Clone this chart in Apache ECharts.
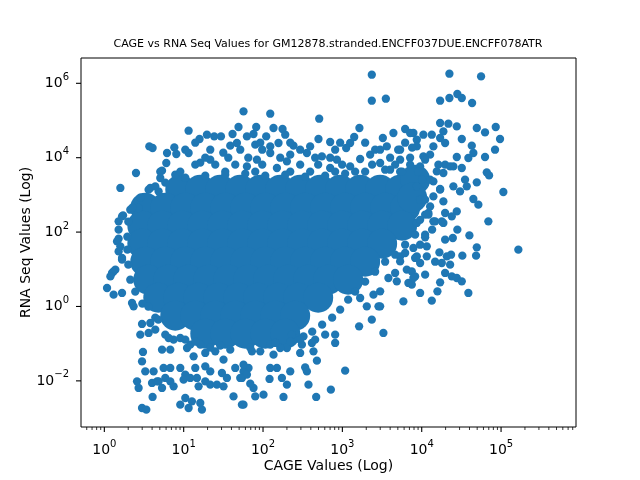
<!DOCTYPE html>
<html>
<head>
<meta charset="utf-8">
<script src="https://cdn.jsdelivr.net/npm/echarts@6/dist/echarts.min.js"></script>
<style>
  html, body { margin: 0; padding: 0; background: #fff; }
  #chart { width: 640px; height: 480px; }
</style>
</head>
<body>
<div id="chart"></div>
<script>
// values as log10 (CAGE, RNA Seq)
const titleText = 'CAGE vs RNA Seq Values for GM12878.stranded.ENCFF037DUE.ENCFF078ATR';
const xName = 'CAGE Values (Log)';
const yName = 'RNA Seq Values (Log)';

// axis range and ticks
const xRange = [0.508, 8.8e5];
const yRange = [5.75e-4, 4.79e6];
const xMajorTicks = [1, 10, 100, 1e3, 1e4, 1e5];
const yMajorTicks = [1e-2, 1, 1e2, 1e4, 1e6];
const minorSteps = [2, 3, 4, 5, 6, 7, 8, 9];
const minorDecades = [0.1, 1, 10, 100, 1e3, 1e4, 1e5];

// scattered points around the dense cloud, [log10 CAGE, log10 RNA]
const edgePoints = [
  [3.371,6.231],[4.349,6.258],[4.748,6.186],[3.371,5.532],[3.548,5.586],[4.232,5.532],[4.349,5.605],[4.449,5.712],[4.505,5.605],[4.635,5.471],
  [1.754,5.245],[2.091,5.183],[2.708,5.048],[3.215,4.798],[1.691,4.825],[1.062,4.726],[1.200,4.503],[1.293,4.618],[1.385,4.573],[1.470,4.573],
  [1.616,4.637],[1.797,4.573],[0.567,4.304],[0.608,4.261],[0.790,4.126],[0.882,4.277],[0.907,4.100],[1.062,4.126],[0.781,3.858],[0.727,3.651],
  [0.894,3.543],[0.705,3.454],[0.399,3.589],[0.202,3.186],[0.579,3.186],[0.684,3.094],[0.432,2.648],[0.327,2.602],[0.236,2.449],[0.180,2.288],
  [0.180,2.065],[0.180,1.823],[1.587,4.323],[1.499,4.134],[1.671,4.395],[1.335,3.946],[1.209,3.866],[1.914,4.825],[1.880,4.637],[2.040,4.573],
  [2.132,4.798],[2.246,4.772],[2.280,4.618],[1.902,4.350],[2.091,4.304],[2.195,4.395],[2.384,4.323],[2.699,4.503],[2.846,4.422],[2.594,4.304],
  [3.149,4.557],[3.098,4.395],[3.048,4.261],[3.510,4.530],[3.643,4.664],[3.791,4.772],[3.895,4.664],[3.560,4.304],[2.091,4.126],[2.343,4.081],
  [2.553,4.126],[2.742,4.035],[2.931,3.946],[3.224,3.965],[3.350,4.081],[1.923,3.946],[1.797,3.766],[2.175,3.723],[2.301,3.901],[2.846,3.723],
  [3.098,3.766],[3.476,3.858],[3.728,3.946],[3.938,4.484],[4.232,4.933],[4.336,4.914],[4.442,4.841],[4.273,4.707],[4.694,4.798],[4.798,4.680],
  [4.933,4.825],[4.987,4.503],[4.505,4.503],[4.631,4.323],[4.924,4.215],[4.798,4.019],[4.442,4.019],[4.588,3.992],[4.651,4.126],[4.295,3.812],
  [4.399,3.766],[4.505,3.723],[4.820,3.605],[4.849,3.524],[4.694,3.336],[4.546,3.409],[4.399,3.229],[4.483,3.094],[4.568,3.229],[5.029,3.078],
  [4.651,2.890],[4.714,2.737],[4.273,2.825],[4.232,3.140],[4.442,2.556],[4.295,2.513],[4.379,2.422],[4.106,2.691],[4.084,2.513],[4.169,2.288],
  [4.273,2.245],[4.840,2.288],[4.449,2.065],[4.601,1.911],[4.392,1.841],[4.043,1.930],[3.854,4.664],[4.021,4.618],[4.127,4.618],[3.938,4.304],
  [4.147,4.304],[4.021,4.035],[4.190,3.632],[3.980,3.766],[4.106,3.409],[3.938,3.229],[4.147,2.960],[3.980,2.871],[3.938,2.245],[4.232,4.530],
  [4.295,4.395],[4.106,4.081],[4.210,3.812],[4.358,3.766],[4.273,3.589],[4.147,3.363],[4.232,3.159],[4.084,2.468],[4.147,2.288],[4.253,2.288],
  [4.064,1.616],[3.895,1.573],[3.938,1.347],[3.980,1.169],[3.917,0.809],[3.728,1.347],[3.791,1.438],[3.665,0.901],[3.812,0.989],[5.218,1.527],
  [4.694,1.589],[4.685,1.366],[4.512,1.366],[4.370,1.392],[4.316,1.347],[4.223,1.454],[4.253,1.169],[4.358,1.124],[4.064,1.347],[4.295,0.901],
  [4.379,0.809],[4.442,0.766],[4.505,0.675],[4.232,0.648],[4.198,0.406],[3.980,0.363],[4.127,0.156],[4.588,0.363],[3.769,0.137],[3.832,0.632],
  [3.686,0.675],[3.517,-0.712],[3.476,0.003],[4.043,1.858],[3.917,1.304],[3.875,0.944],[3.875,0.586],[3.665,1.392],[3.728,1.212],[3.895,0.766],
  [3.580,0.766],[3.476,0.406],[3.392,0.317],[3.455,0.003],[3.308,0.003],[3.224,0.228],[3.211,-0.535],[3.371,-0.355],[2.909,-0.758],[2.909,-0.981],
  [2.783,-0.758],[2.657,-0.892],[3.035,-1.726],[2.855,-2.237],[2.670,-2.433],[2.573,-2.102],[2.679,-1.457],[2.636,-1.207],[2.531,-1.637],[2.553,-1.745],
  [2.468,-1.250],[2.490,-1.027],[2.616,-0.981],[2.510,-0.804],[2.364,-0.758],[2.343,-1.745],[2.301,-2.102],[2.238,-1.922],[2.175,-1.653],[2.091,-1.653],
  [2.082,-1.949],[2.258,-2.433],[2.006,-2.371],[1.902,-2.417],[1.880,-2.191],[1.839,-2.075],[1.817,-1.653],[1.754,-1.745],[1.734,-1.922],[1.754,-2.640],
  [2.132,-1.296],[1.965,-1.207],[1.860,-1.207],[2.301,-1.116],[2.217,-1.116],[0.475,-2.729],[0.529,-2.774],[0.608,-2.433],[0.432,-2.191],[0.412,-2.013],
  [0.516,-1.745],[0.601,-2.056],[0.664,-2.013],[0.621,-1.745],[0.487,-1.223],[0.475,-1.476],[0.453,-0.758],[0.475,-0.470],[0.558,-0.712],[0.579,-0.444],
  [0.727,-1.161],[0.831,-1.161],[0.873,-0.892],[0.810,-0.847],[0.747,-1.653],[0.831,-1.653],[0.768,-1.922],[0.831,-2.013],[0.873,-2.148],[0.684,-2.013],
  [0.727,-2.191],[0.957,-1.653],[1.020,-1.833],[0.999,-1.968],[1.146,-1.653],[1.083,-1.922],[1.167,-1.922],[1.272,-1.610],[1.335,-1.745],[1.272,-2.013],
  [1.335,-2.102],[1.419,-2.102],[1.125,-1.341],[1.272,-1.250],[1.398,-1.207],[1.502,-1.430],[1.482,-1.788],[1.545,-1.922],[1.502,-2.148],[1.188,-2.148],
  [0.957,-2.640],[1.020,-2.460],[1.062,-2.729],[1.104,-2.551],[1.230,-2.774],[1.209,-2.594],[1.628,-2.417],[1.734,-2.640],[1.650,-1.653],[1.754,-1.565],
  [1.797,-1.833],[1.713,-1.922],[1.042,-1.116],[0.957,-0.847],[1.209,-1.027],[0.034,0.497],[0.117,0.317],[0.223,0.363],[0.097,0.901],[0.139,0.989],
  [0.160,1.750],[0.202,1.616],[0.223,1.304],[0.349,0.094],[0.369,0.003],[0.223,2.422],[0.223,1.258],[0.117,0.944],[0.558,3.140],[0.642,3.229],
  [0.180,1.481],[0.076,0.809],
  // band just above the cloud
  [1.146,3.812],[1.398,3.812],[1.650,3.812],[1.990,3.812],[2.468,3.812],[2.695,3.812],[2.997,3.812],[3.375,3.812],[3.665,3.812],
  [1.272,4.000],[1.562,4.000],[1.814,4.000],[2.217,4.000],[2.657,4.000],[2.846,4.000],[3.602,4.000],[3.854,4.000],
  [1.020,4.215],[1.335,4.215],[1.713,4.215],[1.990,4.215],[2.468,4.215],[2.909,4.215],[3.413,4.215],[3.728,4.215],
  [1.146,4.403],[1.965,4.403],[2.343,4.403],[2.972,4.403],[3.287,4.403],[3.791,4.403],
  [1.524,3.624],[1.902,3.624],[2.343,3.624],[2.594,3.624],[2.909,3.624],[3.161,3.624],[3.728,3.624],[0.957,3.624],[0.705,3.624],
  [3.602,3.677],[3.753,3.624],[3.854,3.812],[3.955,3.624],[3.703,4.215],[3.879,4.269],[4.043,3.946],[3.476,4.215],
  // right lobe
  [4.043,2.468],[4.131,2.065],[3.980,1.661],[4.169,1.204],[4.043,0.855],[4.295,1.796],
  // rim of the dense cloud
  [3.539,1.204],[3.413,0.935],[3.287,0.667],[3.161,0.398],[3.073,0.183],[2.972,-0.086],[2.871,-0.301],[2.745,-0.489],[2.620,-0.677],[2.468,-0.892],
  [3.791,1.661],[3.917,1.930],[3.980,2.330],[4.043,2.871],[4.005,3.409],
  [0.302,1.124],[0.290,1.527],[0.290,1.876],[0.302,2.280],[0.353,2.656],[0.453,2.925],[0.327,0.720],[0.390,0.398],[0.479,0.075],[0.642,-0.301],
  [0.768,3.328],[1.020,3.462],[1.272,3.516],[1.524,3.543],[1.776,3.570],[2.028,3.516],[2.280,3.543],[2.531,3.489],[2.783,3.516],[3.035,3.570],
  [3.287,3.624],[3.539,3.677],
  [1.083,-1.027],[1.335,-1.108],[1.587,-1.161],[1.839,-1.108],[2.091,-1.027],[2.343,-0.946],
  [0.642,-0.624],[0.768,-0.758],[1.020,-0.892],[1.146,-0.946],[0.554,0.000],[0.680,-0.355],[1.461,-1.054],[2.154,-0.981]
];

// the solid core where thousands of markers overlap: [log10 RNA, [log10 CAGE ...]]
const coreRows = [
  [3.140, [0.957,1.209,1.461,1.713,1.965,2.217,2.468,2.720,2.972,3.224,3.476,3.728]],
  [2.656, [0.516,0.768,1.020,1.272,1.524,1.776,2.028,2.280,2.531,2.783,3.035,3.287,3.539,3.791]],
  [2.172, [0.479,0.730,0.982,1.234,1.486,1.738,1.990,2.242,2.494,2.745,2.997,3.249,3.501,3.753]],
  [1.688, [0.479,0.730,0.982,1.234,1.486,1.738,1.990,2.242,2.494,2.745,2.997,3.249,3.501]],
  [1.204, [0.516,0.768,1.020,1.272,1.524,1.776,2.028,2.280,2.531,2.783,3.035,3.287]],
  [0.720, [0.554,0.806,1.058,1.310,1.562,1.814,2.065,2.317,2.569,2.821,3.073]],
  [0.237, [0.680,0.932,1.184,1.436,1.688,1.939,2.191,2.443,2.695]],
  [-0.247, [0.894,1.146,1.398,1.650,1.902,2.154,2.405]],
  [-0.731, [1.272,1.524,1.776,2.028,2.280]],
  [3.409, [3.917]], [2.925, [3.879]]
];

const blue = '#1f77b4';
const font = 'DejaVu Sans';
const toVal = p => [Math.pow(10, p[0]), Math.pow(10, p[1])];

const edgeData = edgePoints.map(toVal);
const coreData = [];
coreRows.forEach(r => r[1].forEach(x => coreData.push(toVal([x, r[0]]))));

const xMinorTicks = [];
minorDecades.forEach(d => minorSteps.forEach(m => {
  const v = m * d;
  if (v > xRange[0] && v < xRange[1]) xMinorTicks.push(v);
}));

function powLabel(ticks) {
  const exps = ticks.map(t => Math.round(Math.log10(t)));
  return v => {
    const lg = Math.log10(v);
    const e = Math.round(lg);
    if (Math.abs(lg - e) > 1e-6 || exps.indexOf(e) < 0) return '';
    return '{b|10}{s|' + String(e).replace('-', '\u2212') + '}';
  };
}
const labelRich = {
  b: { fontFamily: font, fontSize: 14, color: '#000', lineHeight: 22 },
  s: { fontFamily: font, fontSize: 10, color: '#000', verticalAlign: 'top' }
};

const chart = echarts.init(document.getElementById('chart'), null, { width: 640, height: 480 });

const option = {
  animation: false,
  backgroundColor: '#fff',
  graphic: [{
    type: 'text', x: 328, y: 39, silent: true,
    style: { text: titleText, fontFamily: font, fontSize: 11, fill: '#000', textAlign: 'center' }
  }],
  grid: {
    left: 81, right: 64, top: 58, bottom: 53,
    show: true, borderColor: '#000', borderWidth: 1, backgroundColor: 'transparent'
  },
  xAxis: {
    type: 'log', logBase: 10, min: xRange[0], max: xRange[1],
    name: xName, nameLocation: 'middle', nameGap: 32, nameMoveOverlap: false,
    nameTextStyle: { fontFamily: font, fontSize: 14, color: '#000' },
    axisLine: { show: false }, axisTick: { show: false }, splitLine: { show: false },
    axisLabel: { margin: 12, formatter: powLabel(xMajorTicks), rich: labelRich }
  },
  yAxis: {
    type: 'log', logBase: 10, min: yRange[0], max: yRange[1],
    name: yName, nameLocation: 'middle', nameGap: 48, nameMoveOverlap: false,
    nameTextStyle: { fontFamily: font, fontSize: 14, color: '#000' },
    axisLine: { show: false }, axisTick: { show: false }, splitLine: { show: false },
    axisLabel: { margin: 12, formatter: powLabel(yMajorTicks), rich: labelRich }
  },
  series: [
    {
      type: 'scatter', name: 'core', data: coreData, symbolSize: 30,
      itemStyle: { color: blue, opacity: 1 }, silent: true, z: 2
    },
    {
      type: 'scatter', name: 'points', data: edgeData, symbolSize: 8.3,
      itemStyle: { color: blue, opacity: 1 }, silent: true, z: 3
    },
    {
      // x-axis ticks, drawn through the axis scale
      type: 'custom', clip: false, silent: true, z: 5,
      data: xMajorTicks.map(v => [v, yRange[0], 5]).concat(xMinorTicks.map(v => [v, yRange[0], 3])),
      encode: { x: 0, y: 1 },
      renderItem: (params, api) => {
        const p = api.coord([api.value(0), yRange[0]]);
        const len = api.value(2);
        return { type: 'line', shape: { x1: p[0], y1: p[1], x2: p[0], y2: p[1] + len },
          style: { stroke: '#000', lineWidth: len > 4 ? 1.1 : 0.8 } };
      }
    },
    {
      type: 'custom', clip: false, silent: true, z: 5,
      data: yMajorTicks.map(v => [xRange[0], v, 5]),
      encode: { x: 0, y: 1 },
      renderItem: (params, api) => {
        const p = api.coord([xRange[0], api.value(1)]);
        return { type: 'line', shape: { x1: p[0], y1: p[1], x2: p[0] - 5, y2: p[1] },
          style: { stroke: '#000', lineWidth: 1.1 } };
      }
    }
  ]
};

chart.setOption(option);
</script>
</body>
</html>
